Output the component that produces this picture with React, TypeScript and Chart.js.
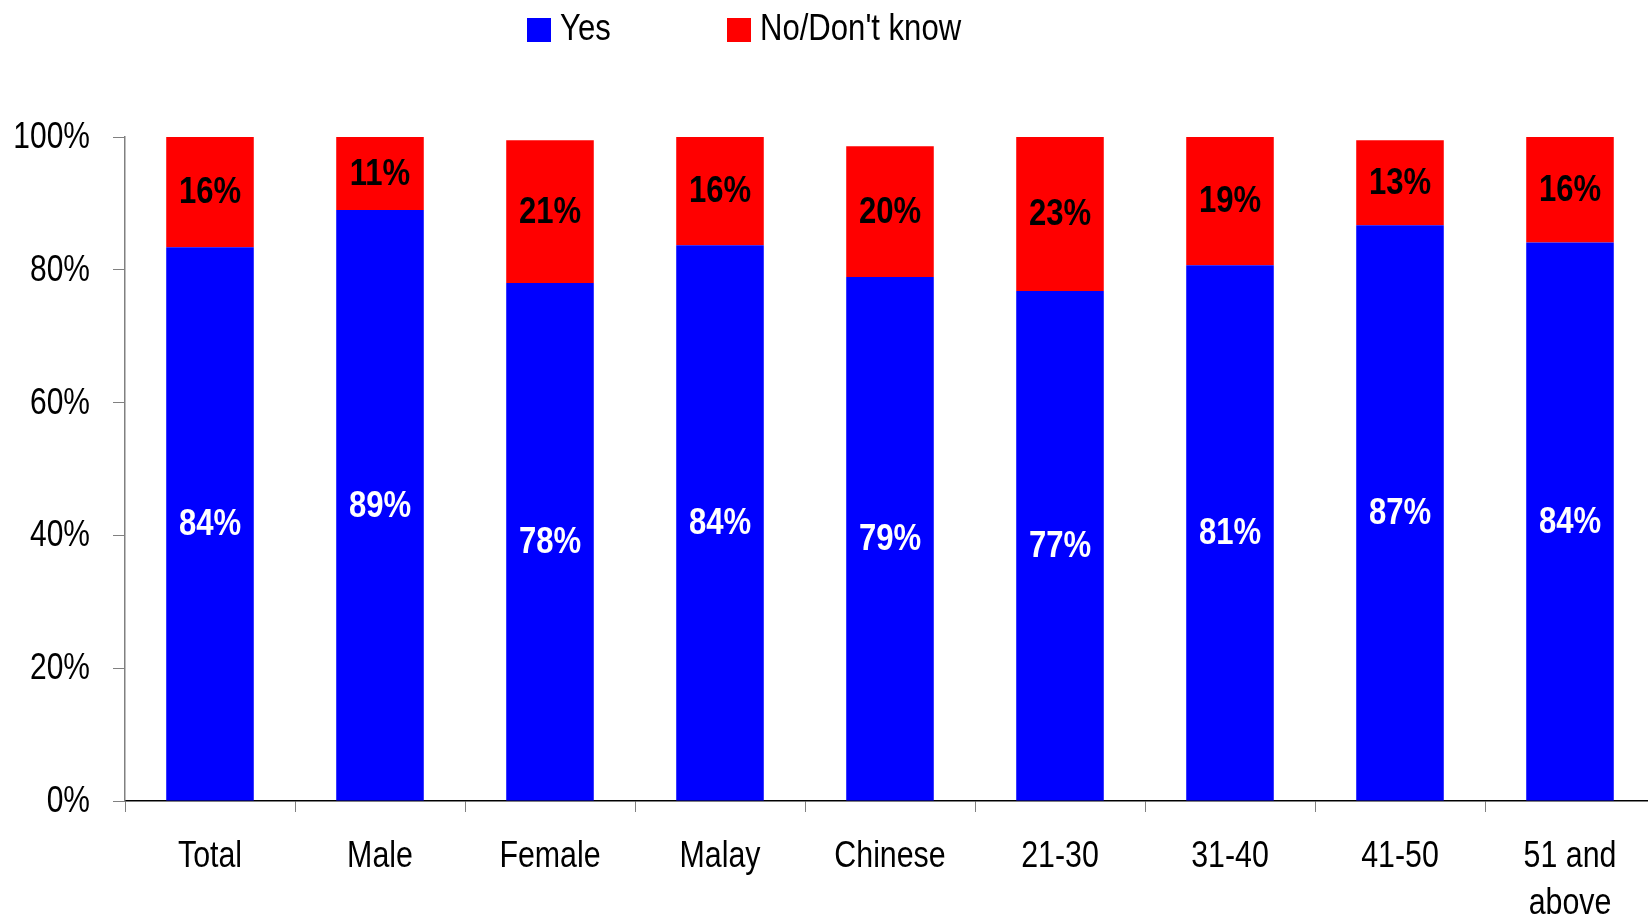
import React, { useEffect, useRef } from 'react';
import { Chart, registerables } from 'chart.js';

Chart.register(...registerables);

const categories: (string | string[])[] = ['Total', 'Male', 'Female', 'Malay', 'Chinese', '21-30', '31-40', '41-50', ['51 and', 'above']];
const yesValues = [83.4, 89.0, 78.0, 83.7, 78.9, 76.8, 80.7, 86.7, 84.1];
const noValues = [16.6, 11.0, 21.5, 16.3, 19.7, 23.2, 19.3, 12.8, 15.9];
const yesLabels = ['84%', '89%', '78%', '84%', '79%', '77%', '81%', '87%', '84%'];
const noLabels = ['16%', '11%', '21%', '16%', '20%', '23%', '19%', '13%', '16%'];
const seriesNames = ['Yes', "No/Don't know"];
const seriesColors = ['#0000FF', '#FF0000'];
const labelColors = ['#FFFFFF', '#000000'];
const yMax = 100;
const yStep = 20;

const FONT = "'Liberation Sans', Arial, sans-serif";

function drawText(ctx: CanvasRenderingContext2D, text: string, x: number, y: number, align: CanvasTextAlign, font: string, color: string, sx: number) {
  ctx.save();
  ctx.font = font;
  ctx.fillStyle = color;
  ctx.textAlign = align;
  ctx.textBaseline = 'alphabetic';
  ctx.translate(x, y);
  ctx.scale(sx, 1);
  ctx.fillText(text, 0, 0);
  ctx.restore();
}

const axisTextPlugin = {
  id: 'axisText',
  afterDraw(chart: any) {
    const ctx = chart.ctx;
    const yScale = chart.scales.y;
    const xScale = chart.scales.x;
    const area = chart.chartArea;
    const yFont = `37px ${FONT}`;
    yScale.ticks.forEach((t: any) => {
      const py = yScale.getPixelForValue(t.value);
      drawText(ctx, `${t.value}%`, area.left - 35, py + 11, 'right', yFont, '#000000', 0.81);
    });
    const xFont = `37px ${FONT}`;
    categories.forEach((c, i) => {
      const px = xScale.getPixelForTick(i);
      const lines = Array.isArray(c) ? c : [c];
      lines.forEach((ln, li) => {
        drawText(ctx, ln, px, area.bottom + 66 + li * 47, 'center', xFont, '#000000', 0.82);
      });
    });
  },
};

const valueLabelPlugin = {
  id: 'valueLabels',
  afterDatasetsDraw(chart: any) {
    const ctx = chart.ctx;
    const labelSets = [yesLabels, noLabels];
    const size = 37;
    const font = `bold ${size}px ${FONT}`;
    chart.data.datasets.forEach((ds: any, di: number) => {
      const meta = chart.getDatasetMeta(di);
      meta.data.forEach((bar: any, i: number) => {
        const cy = (bar.y + bar.base) / 2;
        drawText(ctx, labelSets[di][i], bar.x, cy + size * 0.358 - 2, 'center', font, labelColors[di], 0.84);
      });
    });
  },
};

const legendPlugin = {
  id: 'customLegend',
  afterDraw(chart: any) {
    const ctx = chart.ctx;
    const starts = [527, 727];
    chart.data.datasets.forEach((ds: any, di: number) => {
      const x = starts[di];
      ctx.save();
      ctx.fillStyle = ds.backgroundColor;
      ctx.fillRect(x, 18, 24, 24);
      ctx.restore();
      drawText(ctx, ds.label, x + 33, 39.5, 'left', `37px ${FONT}`, '#000000', 0.84);
    });
  },
};

export default function App() {
  const canvasRef = useRef<HTMLCanvasElement | null>(null);

  useEffect(() => {
    if (!canvasRef.current) return;
    const chart = new Chart(canvasRef.current, {
      type: 'bar',
      data: {
        labels: categories as any,
        datasets: [
          {
            label: seriesNames[0],
            data: yesValues,
            backgroundColor: seriesColors[0],
            categoryPercentage: 1,
            barPercentage: 0.515,
          },
          {
            label: seriesNames[1],
            data: noValues,
            backgroundColor: seriesColors[1],
            categoryPercentage: 1,
            barPercentage: 0.515,
          },
        ],
      },
      options: {
        animation: false,
        responsive: false,
        devicePixelRatio: 1,
        layout: { padding: { top: 137, left: 0, right: 5, bottom: 0 } },
        plugins: {
          legend: { display: false },
          tooltip: { enabled: false },
        },
        scales: {
          x: {
            stacked: true,
            grid: {
              offset: true,
              drawOnChartArea: false,
              drawTicks: true,
              tickLength: 11,
              color: '#808080',
            },
            border: { color: '#000000', width: 1.5 },
            ticks: {
              color: 'rgba(0,0,0,0)',
              font: { family: FONT, size: 30 },
              padding: 16,
              maxRotation: 0,
              autoSkip: false,
            },
            afterFit: (s: any) => {
              s.height = 120;
            },
          },
          y: {
            stacked: true,
            min: 0,
            max: yMax,
            grid: {
              drawOnChartArea: false,
              drawTicks: true,
              tickLength: 12,
              color: '#808080',
            },
            border: { color: '#808080', width: 1.5 },
            ticks: {
              stepSize: yStep,
              color: 'rgba(0,0,0,0)',
              font: { family: FONT, size: 30 },
              padding: 23,
              callback: (v: any) => `${v}%`,
            },
            afterFit: (s: any) => {
              s.width = 125;
            },
          },
        },
      },
      plugins: [valueLabelPlugin, legendPlugin, axisTextPlugin],
    });
    return () => chart.destroy();
  }, []);

  return (
    <div style={{ position: 'fixed', left: 0, top: 0, width: 1648, height: 921, overflow: 'hidden', background: '#fff' }}>
      <canvas ref={canvasRef} width={1660} height={921} style={{ width: 1660, height: 921, display: 'block' }} />
    </div>
  );
}
